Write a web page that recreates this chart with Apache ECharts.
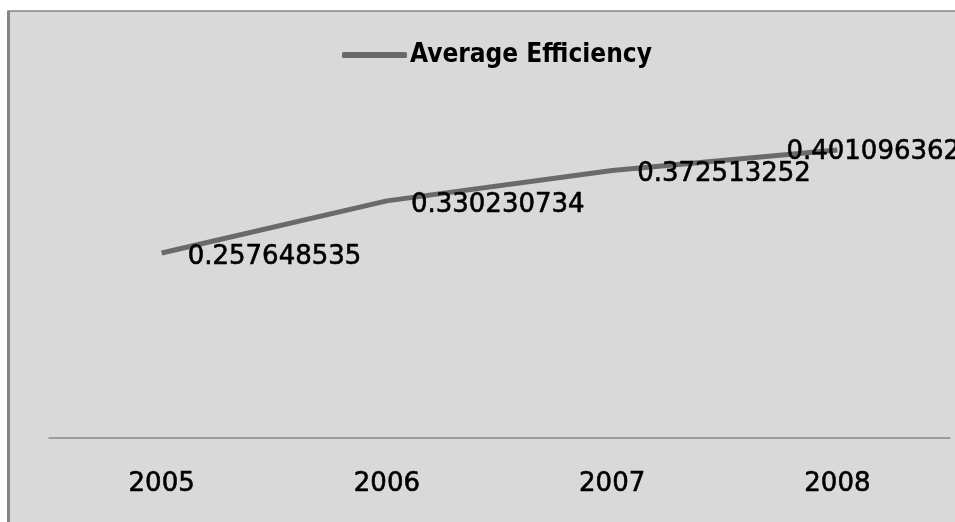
<!DOCTYPE html>
<html>
<head>
<meta charset="utf-8">
<script src="https://cdn.jsdelivr.net/npm/echarts@6/dist/echarts.min.js"></script>
<style>
html,body{margin:0;padding:0;background:#ffffff;}
#chart{width:955px;height:522px;}
</style>
</head>
<body>
<div id="chart"></div>
<script>
const categories = ['2005', '2006', '2007', '2008'];
const seriesName = 'Average Efficiency';
const efficiency = [0.257648535, 0.330230734, 0.372513252, 0.401096362];
const labelTexts = ['0.257648535', '0.330230734', '0.372513252', '0.401096362'];

const labelOffsets = [[26, 4], [24, 4], [25, 4], [-51, 2]];

const chart = echarts.init(document.getElementById('chart'));
const option = {
  animation: false,
  backgroundColor: '#ffffff',
  graphic: [
    { type: 'rect', z: -10, shape: { x: 8, y: 11, width: 960, height: 520 },
      style: { fill: '#d9d9d9', stroke: '#858585', lineWidth: 1.5 } },
    { type: 'rect', z: -9, shape: { x: 7, y: 11, width: 3, height: 520 },
      style: { fill: '#858585' } }
  ],
  legend: {
    left: 337, top: 37,
    itemWidth: 65, itemHeight: 6, itemGap: 10,
    data: [seriesName],
    icon: 'roundRect',
    itemStyle: { color: '#6a6a6a' },
    textStyle: { fontFamily: 'DejaVu Sans Condensed', fontWeight: 'bold', fontSize: 26, color: '#000', padding: [0, 0, 0, -2] }
  },
  grid: { left: 49, right: 5, top: 79, bottom: 84 },
  xAxis: {
    type: 'category',
    data: categories,
    boundaryGap: true,
    axisLine: { lineStyle: { color: '#888888', width: 1.5 } },
    axisTick: { show: false },
    axisLabel: { margin: 33, lineHeight: 26, fontFamily: 'DejaVu Sans', fontSize: 26, color: '#000',
      textBorderColor: '#000', textBorderWidth: 0.6 }
  },
  yAxis: {
    type: 'value', min: 0, max: 0.5, show: false,
    splitLine: { show: false }
  },
  series: [{
    name: seriesName,
    type: 'line',
    data: efficiency.map((v, i) => ({
      value: v,
      label: { offset: labelOffsets[i], formatter: labelTexts[i] }
    })),
    symbol: 'circle', symbolSize: 0.1, showSymbol: true,
    itemStyle: { color: '#6a6a6a' },
    lineStyle: { color: '#6a6a6a', width: 5 },
    label: {
      show: true, position: 'right', distance: 0,
      fontFamily: 'DejaVu Sans', fontSize: 26, color: '#000',
      textBorderColor: '#000', textBorderWidth: 0.6
    }
  }]
};
chart.setOption(option);
</script>
</body>
</html>
